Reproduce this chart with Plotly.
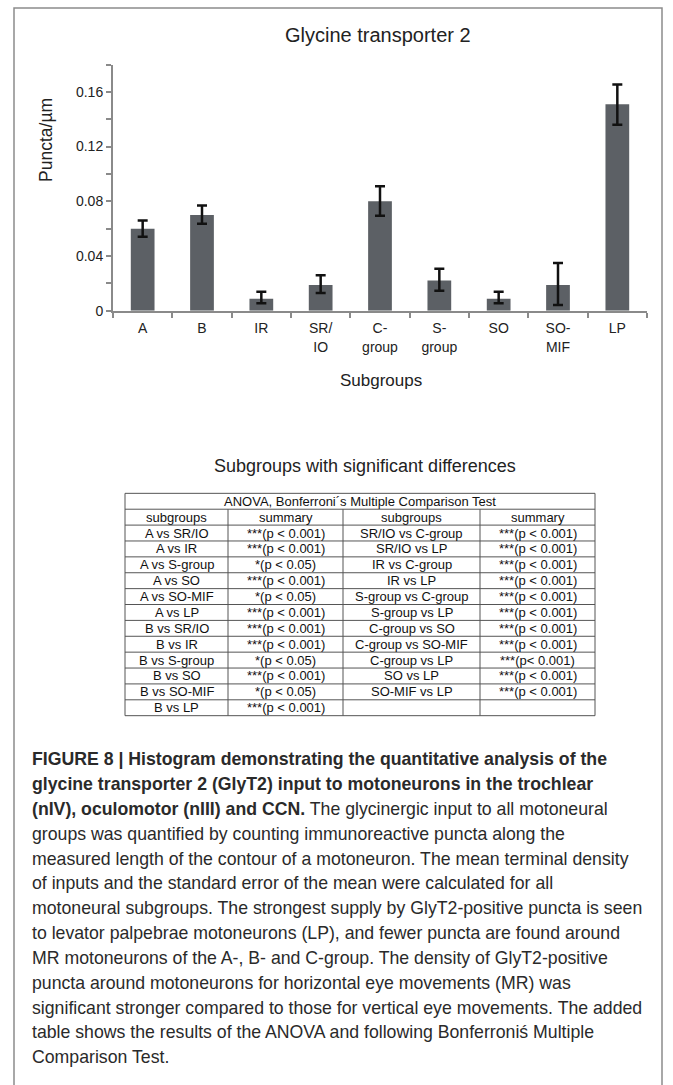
import plotly.graph_objects as go

W, H = 673, 1085

def px(x):
    return x / W

def py(y):
    return 1 - y / H

# ---------------- data ----------------
categories = ["A", "B", "IR", "SR/<br>IO", "C-<br>group", "S-<br>group", "SO", "SO-<br>MIF", "LP"]
means = [0.060, 0.070, 0.0088, 0.0188, 0.080, 0.022, 0.0088, 0.0188, 0.151]
err_top = [0.066, 0.077, 0.0139, 0.0259, 0.091, 0.0307, 0.0139, 0.0349, 0.1653]
err_bottom = [0.054, 0.0635, 0.0054, 0.0129, 0.0695, 0.0146, 0.0054, 0.0041, 0.136]

ytick_vals = [0, 0.02, 0.04, 0.06, 0.08, 0.10, 0.12, 0.14, 0.16, 0.18]
ytick_text = ["0", "", "0.04", "", "0.08", "", "0.12", "", "0.16", ""]

table_title = "ANOVA, Bonferroni´s Multiple Comparison Test"
table_header = ["subgroups", "summary", "subgroups", "summary"]
col_pairs_1 = ["A vs SR/IO", "A vs IR", "A vs S-group", "A vs SO", "A vs SO-MIF", "A vs LP",
               "B vs SR/IO", "B vs IR", "B vs S-group", "B vs SO", "B vs SO-MIF", "B vs LP"]
col_summary_1 = ["***(p < 0.001)", "***(p < 0.001)", "*(p < 0.05)", "***(p < 0.001)", "*(p < 0.05)",
                 "***(p < 0.001)", "***(p < 0.001)", "***(p < 0.001)", "*(p < 0.05)", "***(p < 0.001)",
                 "*(p < 0.05)", "***(p < 0.001)"]
col_pairs_2 = ["SR/IO vs C-group", "SR/IO vs LP", "IR vs C-group", "IR vs LP", "S-group vs C-group",
               "S-group vs LP", "C-group vs SO", "C-group vs SO-MIF", "C-group vs LP", "SO vs LP",
               "SO-MIF vs LP", ""]
col_summary_2 = ["***(p < 0.001)", "***(p < 0.001)", "***(p < 0.001)", "***(p < 0.001)", "***(p < 0.001)",
                 "***(p < 0.001)", "***(p < 0.001)", "***(p < 0.001)", "***(p< 0.001)", "***(p < 0.001)",
                 "***(p < 0.001)", ""]

caption_lines = [
    "<b>FIGURE 8 | Histogram demonstrating the quantitative analysis of the</b>",
    "<b>glycine transporter 2 (GlyT2) input to motoneurons in the trochlear</b>",
    "<b>(nIV), oculomotor (nIII) and CCN.</b> The glycinergic input to all motoneural",
    "groups was quantified by counting immunoreactive puncta along the",
    "measured length of the contour of a motoneuron. The mean terminal density",
    "of inputs and the standard error of the mean were calculated for all",
    "motoneural subgroups. The strongest supply by GlyT2-positive puncta is seen",
    "to levator palpebrae motoneurons (LP), and fewer puncta are found around",
    "MR motoneurons of the A-, B- and C-group. The density of GlyT2-positive",
    "puncta around motoneurons for horizontal eye movements (MR) was",
    "significant stronger compared to those for vertical eye movements. The added",
    "table shows the results of the ANOVA and following Bonferroniś Multiple",
    "Comparison Test.",
]

# ---------------- styling / layout constants ----------------
FONT = "Liberation Sans, Arial, sans-serif"
AXIS_GREY = "#8a8a8a"
TABLE_LINE = "#555555"
col_edges = [125, 228, 343, 480, 595]      # table column boundaries (px)
table_top = 497
row_h = 16

err_plus = [t - m for t, m in zip(err_top, means)]
err_minus = [m - b for m, b in zip(means, err_bottom)]

fig = go.Figure()

fig.add_trace(go.Bar(
    x=categories, y=means,
    marker=dict(color="#5c6065", line=dict(width=0)),
    error_y=dict(type="data", symmetric=False, array=err_plus, arrayminus=err_minus,
                 color="#111111", thickness=2.5, width=5),
    showlegend=False, hoverinfo="skip",
))

annotations = [
    dict(text="Glycine transporter 2", x=px(378), y=py(35), font=dict(size=20, color="#222")),
    dict(text="Puncta/µm", x=px(46), y=py(141), textangle=-90, font=dict(size=17.5, color="#222")),
    dict(text="Subgroups", x=px(381), y=py(383), font=dict(size=17, color="#222")),
    dict(text="Subgroups with significant differences", x=px(365), y=py(469),
         font=dict(size=18, color="#222")),
]
for a in annotations:
    a.update(xref="paper", yref="paper", showarrow=False, xanchor="center", yanchor="middle")
    a["font"]["family"] = FONT

# ---------------- table (lines + cell texts) ----------------
shapes = [dict(type="rect", xref="paper", yref="paper",
               x0=px(14), x1=px(662), y0=py(1110), y1=py(8),
               line=dict(color="#8c8c8c", width=1.5), fillcolor="rgba(0,0,0,0)", layer="below")]

body_cols = [col_pairs_1, col_summary_1, col_pairs_2, col_summary_2]
n_rows = 2 + len(col_pairs_1)
table_bottom = table_top + n_rows * row_h

def tline(x0, y0, x1, y1):
    return dict(type="line", xref="paper", yref="paper", x0=px(x0), y0=py(y0), x1=px(x1), y1=py(y1),
                line=dict(color=TABLE_LINE, width=1))

for r in range(n_rows + 1):
    yy = table_top + r * row_h
    shapes.append(tline(col_edges[0], yy, col_edges[-1], yy))
shapes.append(tline(col_edges[0], table_top, col_edges[0], table_bottom))
shapes.append(tline(col_edges[-1], table_top, col_edges[-1], table_bottom))
for xe in col_edges[1:-1]:
    shapes.append(tline(xe, table_top + row_h, xe, table_bottom))

cell_font = dict(family=FONT, size=13, color="#111")
annotations.append(dict(text=table_title, x=px((col_edges[0] + col_edges[-1]) / 2),
                        y=py(table_top + row_h / 2), xref="paper", yref="paper", showarrow=False,
                        xanchor="center", yanchor="middle", font=cell_font))
rows = [table_header] + [list(t) for t in zip(*body_cols)]
for ri, row in enumerate(rows):
    yc = table_top + (ri + 1) * row_h + row_h / 2
    for ci, txt in enumerate(row):
        if not txt:
            continue
        xc = (col_edges[ci] + col_edges[ci + 1]) / 2
        annotations.append(dict(text=txt, x=px(xc), y=py(yc), xref="paper", yref="paper",
                                showarrow=False, xanchor="center", yanchor="middle", font=cell_font))

# ---------------- caption ----------------
for i, line in enumerate(caption_lines):
    annotations.append(dict(
        text=line, x=px(30), y=py(765 + 25 * i), xref="paper", yref="paper",
        xanchor="left", yanchor="middle", showarrow=False,
        font=dict(family=FONT, size=17.7, color="#2a2a2a"),
    ))

fig.update_layout(
    width=W, height=H,
    margin=dict(l=0, r=0, t=0, b=0),
    paper_bgcolor="white", plot_bgcolor="white",
    font=dict(family=FONT, color="#222"),
    bargap=0.6,
    annotations=annotations,
    shapes=shapes,
    xaxis=dict(domain=[px(113), px(647)], type="category", tickson="boundaries",
               showline=True, linecolor=AXIS_GREY, linewidth=2,
               ticks="outside", ticklen=5, tickwidth=2, tickcolor=AXIS_GREY,
               ticklabelstandoff=4,
               tickfont=dict(size=14, color="#222"), showgrid=False, zeroline=False,
               fixedrange=True),
    yaxis=dict(domain=[py(313), py(65)], range=[0, 0.18],
               tickvals=ytick_vals, ticktext=ytick_text,
               showline=True, linecolor=AXIS_GREY, linewidth=2,
               ticks="outside", ticklen=5, tickwidth=2, tickcolor=AXIS_GREY,
               tickfont=dict(size=14, color="#222"), showgrid=False, zeroline=False,
               fixedrange=True),
)

fig.write_html("out.html", config={"displayModeBar": False},
               post_script="document.body.style.margin='0';document.body.style.overflow='hidden';")
